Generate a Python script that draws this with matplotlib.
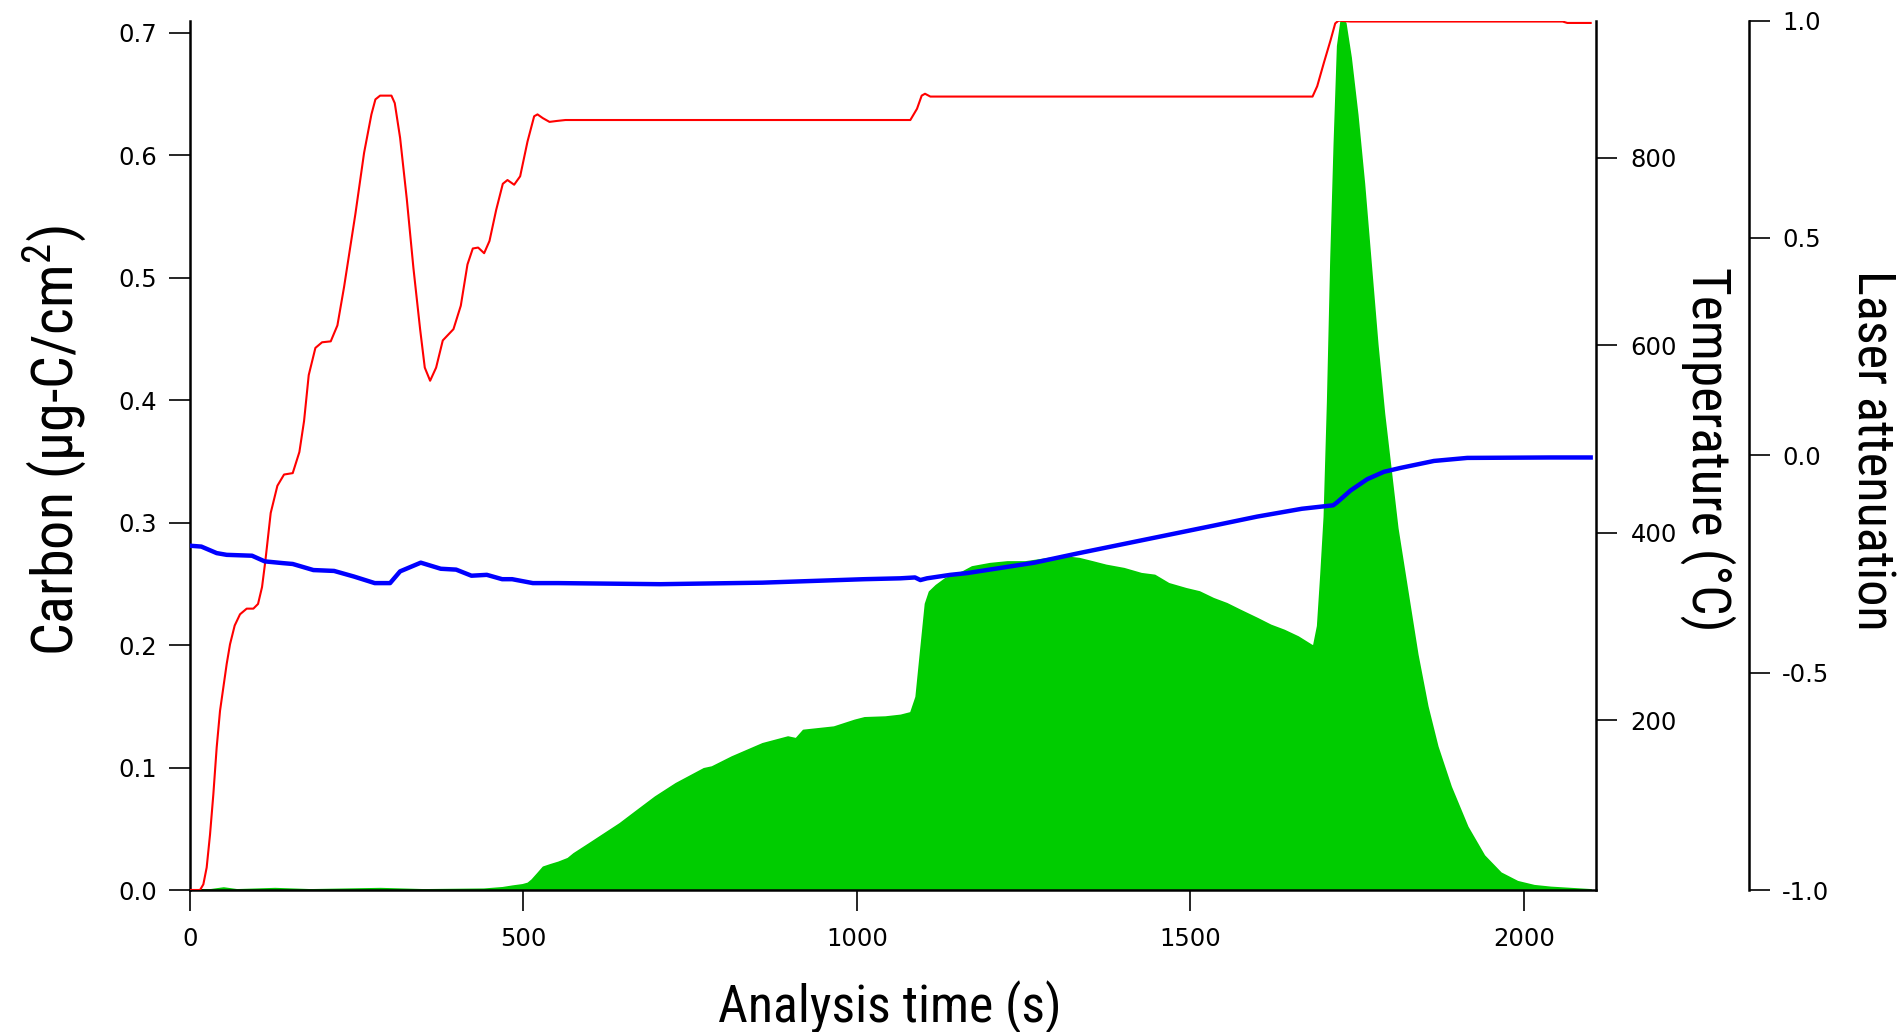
import numpy as np
import matplotlib
matplotlib.use('Agg')
import matplotlib.pyplot as plt
from matplotlib import font_manager as fm

# ---------------- data ----------------
# Carbon signal (µg-C/cm2), green filled area
carbon_t = [0, 30, 50, 70, 127, 180, 285, 350, 440, 468, 483, 498, 506, 512, 521, 529,
            540, 552, 566, 575, 598, 621, 644, 667, 697, 728, 770, 782, 812, 858, 896,
            908, 919, 965, 996, 1011, 1042, 1065, 1080, 1088, 1095, 1102, 1108, 1118,
            1132, 1158, 1172, 1199, 1225, 1252, 1286, 1312, 1333, 1353, 1373, 1400,
            1426, 1446, 1467, 1493, 1513, 1534, 1554, 1574, 1600, 1620, 1640, 1661,
            1681, 1684, 1690, 1695, 1700, 1705, 1710, 1715, 1720, 1725, 1727, 1732,
            1740, 1750, 1760, 1770, 1780, 1790, 1800, 1810, 1825, 1840, 1855, 1870,
            1890, 1915, 1940, 1965, 1990, 2015, 2040, 2100]
carbon_v = [0.0, 0.0005, 0.002, 0.0005, 0.0015, 0.0005, 0.0015, 0.0005, 0.001, 0.0022,
            0.0035, 0.0046, 0.0058, 0.0085, 0.014, 0.019, 0.021, 0.023, 0.026, 0.030,
            0.0381, 0.0463, 0.0545, 0.064, 0.0763, 0.0872, 0.0994, 0.1008, 0.109,
            0.1198, 0.1253, 0.1239, 0.1307, 0.1334, 0.1389, 0.141, 0.1416, 0.143,
            0.1451, 0.158, 0.1961, 0.234, 0.2438, 0.249, 0.2546, 0.2601, 0.2642,
            0.2669, 0.2683, 0.2683, 0.271, 0.2723, 0.271, 0.2683, 0.2655, 0.2628,
            0.2587, 0.2573, 0.2505, 0.2464, 0.2438, 0.2383, 0.2342, 0.2288, 0.222,
            0.2165, 0.2124, 0.207, 0.2002, 0.1995, 0.2159, 0.2581, 0.3051, 0.3988,
            0.5161, 0.6099, 0.6896, 0.7093, 0.710, 0.7084, 0.6802, 0.6333, 0.577,
            0.5114, 0.4458, 0.3894, 0.3426, 0.2957, 0.244, 0.1925, 0.1502, 0.1174,
            0.0846, 0.0518, 0.0283, 0.0142, 0.0072, 0.0039, 0.0025, 0.0005]

# Oven temperature (°C), red line
temp_t = [0, 15, 20, 25, 30, 35, 40, 45, 50, 55, 60, 67, 75, 85, 95, 102, 108, 113,
          121, 131, 141, 154, 164, 171, 178, 188, 198, 211, 221, 231, 248, 261, 272,
          278, 285, 302, 307, 315, 325, 335, 345, 352, 360, 369, 379, 387, 395, 406,
          416, 424, 432, 441, 449, 459, 469, 476, 486, 495, 506, 516, 521, 529, 539,
          550, 563, 1080, 1090, 1097, 1102, 1110, 1683, 1690, 1700, 1710, 1717, 1722,
          1730, 1740, 2058, 2065, 2100]
temp_v = [19, 19, 25, 43, 78, 121, 171, 210, 235, 260, 281, 301, 313, 319, 319, 324,
          342, 370, 421, 450, 462, 463.5, 486, 519, 568, 597, 603, 604, 621, 662, 740,
          805, 846, 862, 866, 866, 858, 821, 756, 682, 617, 576, 562, 576, 605, 611,
          617, 642, 686, 703, 704, 698, 711, 744, 772, 776, 771, 780, 817, 844, 846,
          842, 838, 839, 840, 840, 852, 866, 868, 865, 865, 876, 901, 925, 943, 946,
          945.5, 945, 945, 943.5, 943.5]

# Laser attenuation, blue line
laser_t = [0, 17, 40, 55, 93, 112, 139, 154, 185, 216, 246, 277, 300, 315, 346, 376,
           399, 422, 445, 468, 483, 514, 552, 705, 858, 1011, 1065, 1087, 1095, 1105,
           1140, 1165, 1266, 1333, 1400, 1467, 1534, 1600, 1667, 1714, 1720, 1740,
           1765, 1790, 1815, 1865, 1915, 2040, 2100]
laser_v = [-0.208, -0.210, -0.225, -0.229, -0.231, -0.244, -0.248, -0.250, -0.264,
           -0.266, -0.279, -0.294, -0.294, -0.267, -0.247, -0.261, -0.263, -0.277,
           -0.275, -0.285, -0.285, -0.294, -0.294, -0.2965, -0.293, -0.285, -0.283,
           -0.281, -0.287, -0.283, -0.275, -0.271, -0.247, -0.225, -0.204, -0.183,
           -0.162, -0.141, -0.123, -0.115, -0.108, -0.081, -0.055, -0.038, -0.029,
           -0.013, -0.006, -0.005, -0.005]

x_ticks = [0, 500, 1000, 1500, 2000]
carbon_ticks = [0.0, 0.1, 0.2, 0.3, 0.4, 0.5, 0.6, 0.7]
temp_ticks = [200, 400, 600, 800]
laser_ticks = [-1.0, -0.5, 0.0, 0.5, 1.0]

# ---------------- style ----------------
names = {f.name for f in fm.fontManager.ttflist}
label_font = 'Liberation Sans'
for cand in ['Arial Narrow', 'Liberation Sans Narrow', 'Roboto Condensed', 'Archivo Narrow',
             'PT Sans Narrow', 'IBM Plex Sans Condensed', 'Liberation Sans']:
    if cand in names:
        label_font = cand
        break
plt.rcParams['font.family'] = ['DejaVu Sans']
plt.rcParams['axes.unicode_minus'] = False
plt.rcParams['mathtext.fontset'] = 'custom'
plt.rcParams['mathtext.rm'] = label_font

W, H = 1901, 1032
fig = plt.figure(figsize=(W / 100, H / 100), dpi=100)
L, R, T, B = 190, 1596, 20.6, 890
ax = fig.add_axes([L / W, 1 - B / H, (R - L) / W, (B - T) / H])
ax2 = ax.twinx()
ax3 = ax.twinx()

spine_w = 1.8
tick_kw = dict(direction='out', length=15, width=1.2, labelsize=17.5, colors='black')

# main axis
ax.fill_between(carbon_t, 0, carbon_v, color='#00CC00', linewidth=1.2, edgecolor='#00CC00')
ax.set_xlim(0, 2108)
ax.set_ylim(0, 0.71)
ax.set_xticks(x_ticks)
ax.set_yticks(carbon_ticks)
ax.set_yticklabels([f'{v:.1f}' for v in carbon_ticks])
ax.tick_params(axis='x', pad=12, **tick_kw)
ax.tick_params(axis='y', pad=9, **tick_kw)
for s in ['top', 'right']:
    ax.spines[s].set_visible(False)
for s in ['left', 'bottom']:
    ax.spines[s].set_linewidth(spine_w)

# temperature axis
ax2.plot(temp_t, temp_v, color='#FF0000', linewidth=1.5)
ax2.set_ylim(19, 946)
ax2.set_yticks(temp_ticks)
ax2.tick_params(axis='y', pad=10, **tick_kw)
for s in ['top', 'left', 'bottom']:
    ax2.spines[s].set_visible(False)
ax2.spines['right'].set_linewidth(spine_w)

# laser axis
ax3.plot(laser_t, laser_v, color='#0000FF', linewidth=3.2)
ax3.set_ylim(-1, 1)
ax3.set_yticks(laser_ticks)
ax3.set_yticklabels([f'{v:.1f}' for v in laser_ticks])
ax3.spines['right'].set_position(('axes', (1749 - L) / (R - L)))
ax3.tick_params(axis='y', pad=9, **tick_kw)
for s in ['top', 'left', 'bottom']:
    ax3.spines[s].set_visible(False)
ax3.spines['right'].set_linewidth(spine_w)

# axis titles, sized so that their length matches the reference
renderer = fig.canvas.get_renderer()
titles = [
    ('Analysis time (s)', 890, 1007, 0, 344),
    ('Carbon (µg-C/cm$^{2}$)', 55, 440, 90, 431),
    ('Temperature (°C)', 1708, 449, -90, 363),
    ('Laser attenuation', 1871, 450, -90, 361),
]
for txt, px, py, rot, length in titles:
    t = fig.text(px / W, 1 - py / H, txt, rotation=rot, family=[label_font, 'DejaVu Sans'],
                 fontsize=40, ha='center', va='center')
    bb = t.get_window_extent(renderer)
    cur = bb.width if rot == 0 else bb.height
    t.set_fontsize(min(44, 40 * length / cur))

fig.savefig('out.png', dpi=100)
